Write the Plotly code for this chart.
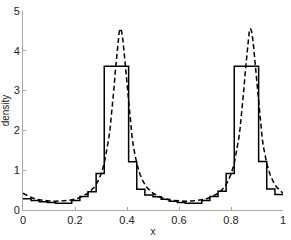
import numpy as np
import plotly.graph_objects as go

# Histogram (32 equal bins on [0, 1])
n_bins = 32
hist_density = [0.28, 0.24, 0.21, 0.19, 0.17, 0.17, 0.24, 0.34,
                0.46, 0.92, 3.61, 3.61, 3.61, 1.21, 0.52, 0.38,
                0.33, 0.27, 0.22, 0.19, 0.17, 0.17, 0.24, 0.34,
                0.47, 0.92, 3.61, 3.61, 3.61, 1.22, 0.53, 0.39]

# Smooth density estimate (dashed curve)
curve_x = [0.0, 0.025, 0.05, 0.075, 0.1, 0.125, 0.15, 0.175, 0.2, 0.225,
           0.25, 0.2625, 0.275, 0.2875, 0.3, 0.3125, 0.325, 0.33, 0.335, 0.34,
           0.345, 0.35, 0.355, 0.36, 0.365, 0.37, 0.375, 0.38, 0.385, 0.39,
           0.395, 0.4, 0.405, 0.41, 0.415, 0.42, 0.425, 0.4375, 0.45, 0.4625,
           0.475, 0.4875,
           0.5, 0.525, 0.55, 0.575, 0.6, 0.625, 0.65, 0.675, 0.7, 0.725,
           0.75, 0.7625, 0.775, 0.7875, 0.8, 0.8125, 0.825, 0.83, 0.835, 0.84,
           0.845, 0.85, 0.855, 0.86, 0.865, 0.87, 0.875, 0.88, 0.885, 0.89,
           0.895, 0.9, 0.905, 0.91, 0.915, 0.92, 0.925, 0.9375, 0.95, 0.9625,
           0.975, 0.9875, 1.0]
curve_y = [0.42, 0.33, 0.27, 0.24, 0.225, 0.22, 0.225, 0.24, 0.27, 0.33,
           0.42, 0.49, 0.58, 0.71, 0.90, 1.17, 1.58, 1.80, 2.05, 2.35,
           2.69, 3.07, 3.48, 3.88, 4.23, 4.47, 4.56, 4.47, 4.23, 3.88,
           3.48, 3.07, 2.69, 2.35, 2.05, 1.80, 1.58, 1.17, 0.90, 0.71,
           0.58, 0.49,
           0.42, 0.33, 0.27, 0.24, 0.225, 0.22, 0.225, 0.24, 0.27, 0.33,
           0.42, 0.49, 0.58, 0.71, 0.90, 1.17, 1.58, 1.80, 2.05, 2.35,
           2.69, 3.07, 3.48, 3.88, 4.23, 4.47, 4.56, 4.47, 4.23, 3.88,
           3.48, 3.07, 2.69, 2.35, 2.05, 1.80, 1.58, 1.17, 0.90, 0.71,
           0.58, 0.49, 0.42]

x_ticks = [0, 0.2, 0.4, 0.6, 0.8, 1]
x_tick_labels = ["0", "0.2", "0.4", "0.6", "0.8", "1"]
y_ticks = [0, 1, 2, 3, 4, 5]
y_tick_labels = ["0", "1", "2", "3", "4", "5"]

edges = np.linspace(0, 1, n_bins + 1)
step_x = list(edges)
step_y = list(hist_density) + [hist_density[-1]]

fig = go.Figure()
fig.add_trace(go.Scatter(x=step_x, y=step_y, mode="lines",
                         line=dict(color="black", width=1.5, shape="hv"),
                         showlegend=False, hoverinfo="skip"))
fig.add_trace(go.Scatter(x=curve_x, y=curve_y, mode="lines",
                         line=dict(color="black", width=1.5, dash="5px,3px"),
                         showlegend=False, hoverinfo="skip"))

axis_common = dict(showgrid=False, zeroline=False, showline=True,
                   linecolor="#a8a8a8", linewidth=1, ticks="inside",
                   ticklen=3, tickcolor="#a8a8a8", tickwidth=1,
                   ticklabeloverflow="allow",
                   tickfont=dict(size=11, color="#222222"))

fig.update_layout(
    width=291, height=240,
    margin=dict(l=23, r=5, t=7, b=27),
    paper_bgcolor="white", plot_bgcolor="white",
    font=dict(family="Liberation Sans, Arial, sans-serif", size=10, color="#222222"),
    xaxis=dict(range=[0, 1], tickvals=x_ticks, ticktext=x_tick_labels,
               title=dict(text="x", standoff=2, font=dict(size=10)), **axis_common),
    yaxis=dict(range=[0, 5], tickvals=y_ticks, ticktext=y_tick_labels,
               title=dict(text="density", standoff=2, font=dict(size=10)), **axis_common),
)

fig.write_html("out.html",
               config={"displayModeBar": False},
               post_script="document.body.style.margin='0';document.body.style.overflow='hidden';")
